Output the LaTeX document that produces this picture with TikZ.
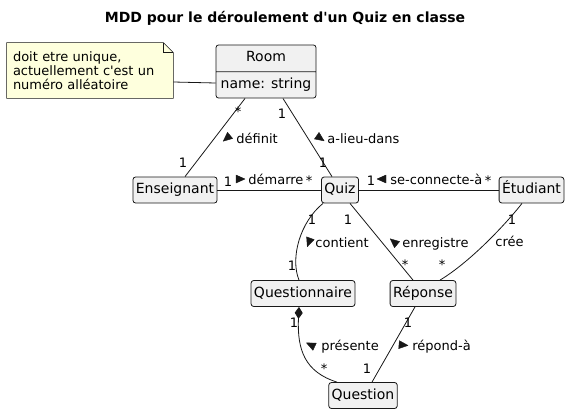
\documentclass[tikz,border=0pt]{standalone}
\usepackage{fontspec}
\setmainfont{DejaVu Sans}
\usepackage{tikz}
\usetikzlibrary{arrows.meta,shapes.multipart,calc,backgrounds}
\definecolor{cadre}{HTML}{181818}
\definecolor{fond}{HTML}{F1F1F1}
\definecolor{memo}{HTML}{FEFFDD}

\begin{document}
\begin{tikzpicture}[x=0.75pt,y=-0.75pt,line width=0.6pt,
    classe/.style={draw=cadre,fill=fond,rounded corners=2pt,
      font=\fontsize{10.5}{12}\selectfont,text height=8pt,text depth=2.5pt,
      inner xsep=2.2pt,inner ysep=4.5pt},
    note/.style={font=\fontsize{9.75}{10.5}\selectfont,align=left,text width=115.5pt,
      inner xsep=4.5pt,minimum height=41.25pt},
    lbl/.style={font=\fontsize{9.75}{11}\selectfont,inner sep=0pt,anchor=base west},
    mult/.style={font=\fontsize{9.75}{11}\selectfont,inner sep=0pt,anchor=base}]
    \useasboundingbox (0,0) rectangle (570,414);
    \node[font=\fontsize{10.5}{12}\selectfont\bfseries] (titre) at (285,18)
      {MDD pour le déroulement d\textquotesingle un Quiz en classe};
    % note
    \node[note] (memo) at (90,70.5)
      {doit etre unique,\\actuellement c\textquotesingle est un\\numéro alléatoire};
    \begin{scope}[on background layer]
      \filldraw[draw=cadre,fill=memo] (memo.south west) -- (memo.north west)
        -- ($(memo.north east)+(-10,0)$) -- ($(memo.north east)+(0,10)$)
        -- (memo.south east) -- cycle;
      \draw[cadre] ($(memo.north east)+(-10,0)$) -- ++(0,10) -- ++(10,0);
    \end{scope}
    % classes
    \node[classe,rectangle split,rectangle split parts=2,minimum width=75pt]
      (room) at (266,71.5) {Room\nodepart{two}name: string};
    \node[classe] (ens) at (175,190) {Enseignant};
    \node[classe] (quiz) at (340,190) {Quiz};
    \node[classe] (etu) at (531.5,190) {Étudiant};
    \node[classe] (qnaire) at (303,293.5) {Questionnaire};
    \node[classe] (rep) at (423,293.5) {Réponse};
    \node[classe] (quest) at (363,395.5) {Question};
    % liens
    \draw[cadre] ($(memo.east)+(0,11.5)$) -- ($(room.west)+(0,11.5)$);
    \draw[cadre] ($(room.south)+(-21,0)$) -- ($(ens.north)+(10,0)$);
    \draw[cadre] ($(room.south)+(17,0)$) -- ($(quiz.north)+(-8,0)$);
    \draw[cadre] (ens) -- (quiz);
    \draw[cadre] (quiz) -- (etu);
    \draw[cadre] ($(quiz.south)+(-17,0)$) .. controls (300,222) and (290,258) .. ($(qnaire.north)+(-4,0)$);
    \draw[cadre] ($(quiz.south)+(10,0)$) -- ($(rep.north)+(-10,0)$);
    \draw[cadre] ($(etu.south)+(-9.5,0)$) .. controls (505,225) and (470,262) .. ($(rep.north)+(17,0)$);
    \draw[cadre,{Diamond[length=9pt,width=6pt]}-] ($(qnaire.south)+(-4,0)$)
      .. controls (297,350) and (305,372) .. ($(quest.north)+(-26,0)$);
    \draw[cadre] ($(rep.south)+(-8,0)$) -- ($(quest.north)+(9,0)$);
    % roles
    \foreach \x/\y/\a/\tx/\txt [count=\i] in {227/138/220/236/définit,
        320/138/-35/327/a-lieu-dans, 240/179/0/248/démarre,
        382/179/180/390/se-connecte-à, 309/242/-110/315/contient,
        394/242/140/402/enregistre, 311/345/155/321/présente,
        403/345/-5/412/répond-à}{
      \filldraw[cadre,line width=0.3pt,line join=round,shift={(\x,\y)},rotate=\a]
        (5,0) -- (-4,4) -- (-4,-4) -- cycle;
      \node[lbl] (lbl\i) at (\tx,{\y+5}) {\txt};
    }
    \node[lbl] (lbl9) at (495,246) {crée};
    % multiplicites
    \foreach \x/\y/\m [count=\i] in {238/116/*, 183/167/1, 282/118/1, 323/167/1,
        228/186/1, 309/185/*, 371/185/1, 488/185/*, 312/224/1, 292/270/1,
        348/224/1, 405/269/*, 512/224/1, 442/269/*, 294/327/1, 324/373/*,
        408/327/1, 367/373/1}
      \node[mult] (m\i) at (\x,\y) {\m};
  \end{tikzpicture}
\end{document}
